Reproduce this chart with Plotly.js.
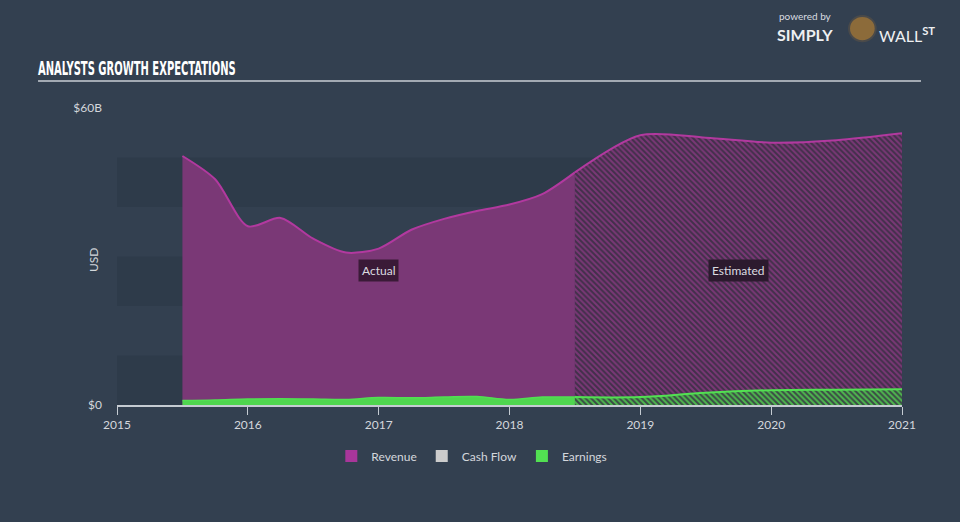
<!DOCTYPE html>
<html>
<head>
<meta charset="utf-8">
<script src="https://cdn.plot.ly/plotly-3.0.1.min.js"></script>
<style>
html,body{margin:0;padding:0;background:#334050;}
#chart{width:960px;height:522px;}
</style>
</head>
<body>
<div id="chart"></div>
<script>
// ---- data (USD billions, x in decimal years) ----
const revActualX = [2015.5, 2015.75, 2016.0, 2016.25, 2016.5, 2016.75, 2017.0, 2017.25, 2017.5, 2017.75, 2018.0, 2018.25, 2018.5];
const revActualY = [50.3, 45.6, 36.1, 37.8, 33.6, 30.8, 31.6, 35.4, 37.6, 39.2, 40.5, 42.6, 47.0];
const revEstX = [2018.5, 2019.0, 2019.5, 2020.0, 2020.5, 2021.0];
const revEstY = [47.0, 54.5, 54.0, 53.0, 53.5, 54.9];
const earnActualX = [2015.5, 2015.75, 2016.0, 2016.25, 2016.5, 2016.75, 2017.0, 2017.25, 2017.5, 2017.75, 2018.0, 2018.25, 2018.5];
const earnActualY = [0.9, 1.0, 1.2, 1.25, 1.2, 1.1, 1.5, 1.45, 1.6, 1.7, 1.1, 1.6, 1.6];
const earnEstX = [2018.5, 2019.0, 2019.5, 2020.0, 2020.5, 2021.0];
const earnEstY = [1.6, 1.6, 2.5, 3.0, 3.1, 3.2];
const xTicks = [2015, 2016, 2017, 2018, 2019, 2020, 2021];
const xTickText = ['2015', '2016', '2017', '2018', '2019', '2020', '2021'];
const yTicks = [0, 60];
const yTickText = ['$0', '$60B'];
const legendNames = ['Revenue', 'Cash Flow', 'Earnings'];
const legendColors = ['#a8369a', '#cccccc', '#52e052'];
const bandRanges = [[0, 10], [20, 30], [40, 50]];

const FONT = 'Lato, "Open Sans", sans-serif';
const traces = [
  {x: revActualX, y: revActualY, type: 'scatter', mode: 'lines',
   line: {color: '#b2399f', width: 2, shape: 'spline', smoothing: 0.8},
   fill: 'tozeroy', fillcolor: '#7a3876', showlegend: false, hoverinfo: 'skip'},
  {x: revEstX, y: revEstY, type: 'scatter', mode: 'lines',
   line: {color: '#b2399f', width: 2, shape: 'spline', smoothing: 0.8},
   fill: 'tozeroy', fillcolor: 'rgba(0,0,0,0)',
   fillpattern: {shape: '\\', bgcolor: '#42304a', fgcolor: '#7a3876', size: 4, solidity: 0.5},
   showlegend: false, hoverinfo: 'skip'},
  {x: earnActualX, y: earnActualY, type: 'scatter', mode: 'lines',
   line: {color: '#52e052', width: 1.5, shape: 'spline'},
   fill: 'tozeroy', fillcolor: '#4fd64f', showlegend: false, hoverinfo: 'skip'},
  {x: earnEstX, y: earnEstY, type: 'scatter', mode: 'lines',
   line: {color: '#52e052', width: 2, shape: 'spline'},
   fill: 'tozeroy', fillcolor: 'rgba(0,0,0,0)',
   fillpattern: {shape: '\\', bgcolor: '#3a4a45', fgcolor: '#4fb84f', size: 4, solidity: 0.5},
   showlegend: false, hoverinfo: 'skip'}
];
legendNames.forEach((n, i) => {
  traces.push({x: [null], y: [null], type: 'bar', name: n, marker: {color: legendColors[i]}, showlegend: true});
});

const shapes = bandRanges.map(r => ({
  type: 'rect', xref: 'paper', yref: 'y', x0: 0, x1: 1, y0: r[0], y1: r[1],
  fillcolor: '#2e3b4a', line: {width: 0}, layer: 'below'
}));
shapes.push({type: 'line', xref: 'paper', yref: 'paper', x0: -0.1006, x1: 1.0242, y0: 1.091, y1: 1.091,
  line: {color: '#a3aab3', width: 2}});
shapes.push({type: 'circle', xref: 'paper', yref: 'paper', x0: 0.9325, x1: 0.9665, y0: 1.225, y1: 1.31,
  fillcolor: '#8c6b3a', line: {color: '#4a4a4a', width: 2}});

const layout = {
  width: 960, height: 522,
  margin: {l: 117, r: 58, t: 108, b: 117},
  paper_bgcolor: '#334050', plot_bgcolor: 'rgba(0,0,0,0)',
  font: {family: FONT, color: '#d3d7dc', size: 12},
  title: {text: '<b>ANALYSTS GROWTH EXPECTATIONS</b>', xref: 'container', yref: 'container',
    x: 38/960, xanchor: 'left', y: 1 - 68/522, yanchor: 'middle',
    font: {family: '"DejaVu Sans Condensed", "DejaVu Sans", sans-serif', size: 20, color: '#ffffff'}},
  xaxis: {range: [2015, 2021], tickvals: xTicks, ticktext: xTickText, showgrid: false, zeroline: false,
    showline: true, linecolor: '#c5cbd2', linewidth: 1.5, ticks: 'outside', ticklen: 8, tickcolor: '#c5cbd2',
    tickfont: {size: 12, color: '#d3d7dc'}, fixedrange: true},
  yaxis: {range: [0, 60], tickvals: yTicks, ticktext: yTickText, showgrid: false, zeroline: false,
    showline: false, ticks: '', ticklabelstandoff: 14, tickfont: {size: 12, color: '#d3d7dc'},
    fixedrange: true},
  showlegend: true,
  legend: {orientation: 'h', x: 0.452, xanchor: 'center', y: -0.172, yanchor: 'middle',
    font: {size: 12, color: '#d3d7dc'}, bgcolor: 'rgba(0,0,0,0)', itemclick: false},
  shapes: shapes,
  annotations: [
    {x: 2017.0, y: 27.1, xref: 'x', yref: 'y', text: 'Actual', showarrow: false,
     bgcolor: '#3a1a37', borderpad: 3, font: {size: 12, color: '#dcdce0'}},
    {x: 2019.75, y: 27.1, xref: 'x', yref: 'y', text: 'Estimated', showarrow: false,
     bgcolor: '#2c1a2e', borderpad: 3, font: {size: 12, color: '#dcdce0'}},
    {xref: 'paper', yref: 'paper', x: -0.0306, y: 0.488, xanchor: 'center', yanchor: 'middle',
     text: 'USD', textangle: -90, showarrow: false, font: {size: 12, color: '#d3d7dc'}},
    {xref: 'paper', yref: 'paper', x: 0.841, y: 1.31, xanchor: 'left', yanchor: 'middle',
     text: 'powered by', showarrow: false, font: {size: 10, color: '#d8dce0'}},
    {xref: 'paper', yref: 'paper', x: 0.838, y: 1.249, xanchor: 'left', yanchor: 'middle',
     text: '<b>SIMPLY</b>', showarrow: false, font: {size: 16, color: '#eef0f2'}},
    {xref: 'paper', yref: 'paper', x: 0.968, y: 1.249, xanchor: 'left', yanchor: 'middle',
     text: 'WALL<b><sup>ST</sup></b>', showarrow: false, font: {size: 16, color: '#eef0f2'}}
  ]
};

Plotly.newPlot('chart', traces, layout, {displayModeBar: false, staticPlot: true}).then(gd => {
  // condense the title to match the narrow display face of the reference
  const t = gd.querySelector('.gtitle');
  if (t) {
    const bb = t.getBBox();
    const target = 198;
    if (bb.width > 0) {
      const sx = target / bb.width;
      const x0 = bb.x;
      t.setAttribute('transform', `translate(${x0},0) scale(${sx},1) translate(${-x0},0)`);
    }
  }
});
</script>
</body>
</html>
